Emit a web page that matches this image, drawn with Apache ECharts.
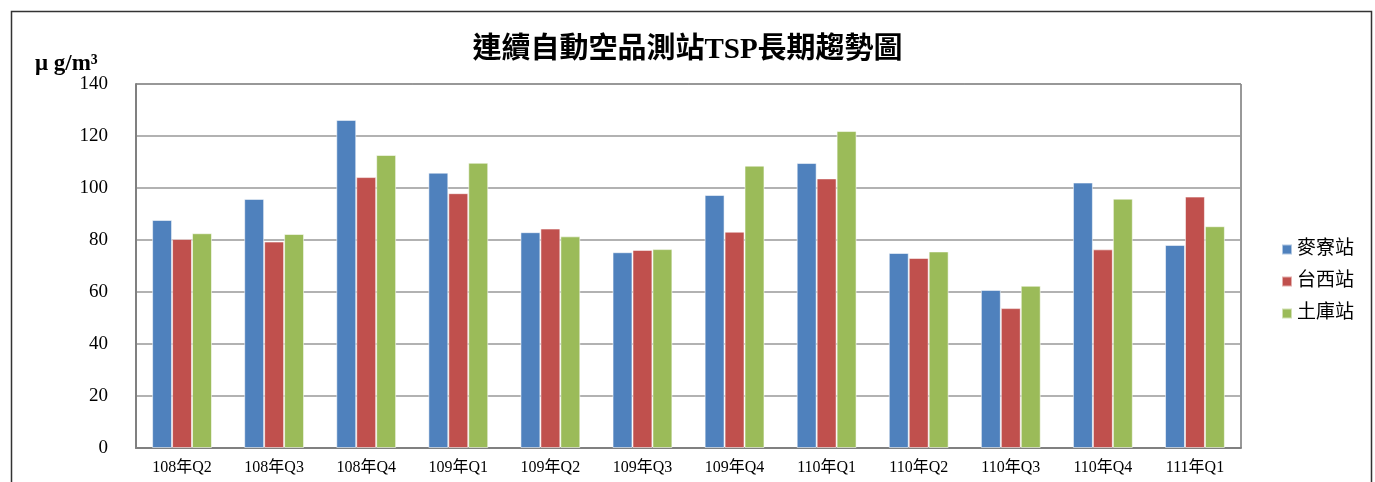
<!DOCTYPE html>
<html>
<head>
<meta charset="utf-8">
<script src="https://cdn.jsdelivr.net/npm/echarts@6/dist/echarts.min.js"></script>
<style>
  html, body { margin: 0; padding: 0; background: #fff; }
  #chart { width: 1375px; height: 482px; }
</style>
</head>
<body>
<div id="chart"></div>
<script>
const categories = ['108年Q2', '108年Q3', '108年Q4', '109年Q1', '109年Q2', '109年Q3',
  '109年Q4', '110年Q1', '110年Q2', '110年Q3', '110年Q4', '111年Q1'];
const mailiao = [87.7, 95.8, 126.2, 105.9, 83.0, 75.3, 97.3, 109.6, 75.0, 60.8, 102.1, 78.1];
const taixi = [80.4, 79.4, 104.2, 98.0, 84.4, 76.2, 83.2, 103.7, 73.1, 53.8, 76.4, 96.7];
const tuku = [82.6, 82.3, 112.7, 109.7, 81.4, 76.5, 108.6, 121.9, 75.6, 62.4, 95.9, 85.3];
const seriesNames = ['麥寮站', '台西站', '土庫站'];
const colors = ['#4F81BD', '#C0504D', '#9BBB59'];

const serif = '"Liberation Serif", "DejaVu Serif", "Noto Sans CJK TC", serif';

const chart = echarts.init(document.getElementById('chart'));
const barSeries = [mailiao, taixi, tuku].map((data, i) => ({
  name: seriesNames[i],
  type: 'bar',
  data: data,
  barGap: '0%',
  barCategoryGap: '35%',
  itemStyle: {
    color: colors[i],
    borderColor: 'rgba(255,255,255,0.55)',
    borderWidth: 1
  }
}));

const option = {
  animation: false,
  color: colors,
  title: {
    text: '連續自動空品測站TSP長期趨勢圖',
    left: 'center',
    top: 31,
    textStyle: {
      fontFamily: serif,
      fontSize: 29,
      fontWeight: 'bold',
      color: '#000'
    }
  },
  graphic: [
    {
      type: 'rect',
      shape: { x: 11.5, y: 11.5, width: 1360, height: 500 },
      style: { fill: 'none', stroke: '#333', lineWidth: 1.5 },
      silent: true
    },
    {
      type: 'text',
      left: 35,
      top: 53,
      style: {
        text: 'μ g/m³',
        font: 'bold 23px ' + serif,
        fill: '#000'
      }
    }
  ],
  legend: {
    orient: 'vertical',
    left: 1276,
    top: 235,
    itemWidth: 10,
    itemHeight: 10,
    itemGap: 13,
    icon: 'rect',
    textStyle: {
      fontFamily: serif,
      fontSize: 19,
      color: '#000'
    }
  },
  grid: {
    left: 136,
    right: 134,
    top: 84,
    bottom: 34,
    show: true,
    borderColor: '#333',
    borderWidth: 1
  },
  xAxis: {
    type: 'category',
    data: categories,
    axisTick: { show: false },
    axisLine: { lineStyle: { color: '#808080', width: 2 } },
    axisLabel: {
      fontFamily: serif,
      fontSize: 16,
      color: '#000',
      margin: 12
    }
  },
  yAxis: {
    type: 'value',
    min: 0,
    max: 140,
    interval: 20,
    axisLine: { show: true, lineStyle: { color: '#808080', width: 2 } },
    axisTick: { show: false },
    axisLabel: {
      fontFamily: serif,
      fontSize: 19,
      color: '#000',
      margin: 28
    },
    splitLine: { lineStyle: { color: '#999', width: 1.5 } }
  },
  series: barSeries
};
chart.setOption(option);
</script>
</body>
</html>
